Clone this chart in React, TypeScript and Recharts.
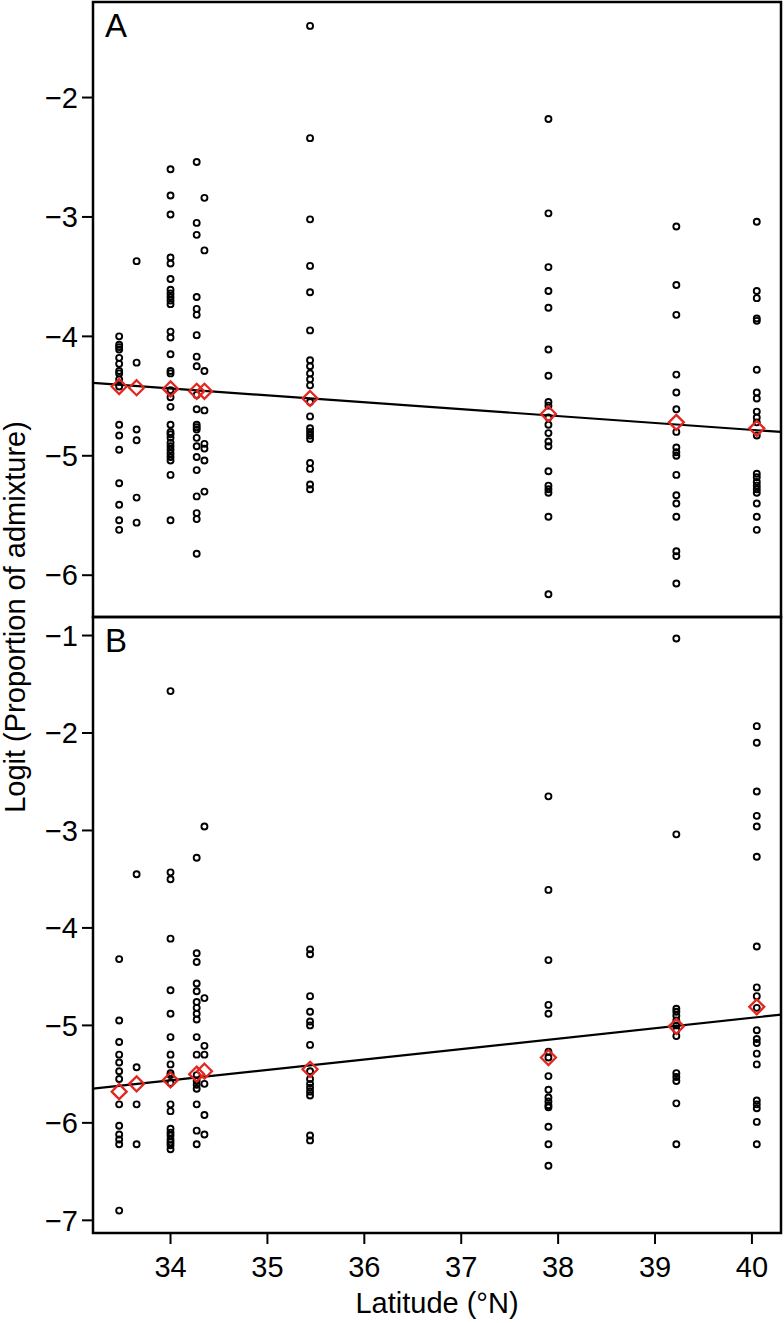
import { ScatterChart, Scatter, XAxis, YAxis, ReferenceArea, ReferenceLine } from 'recharts'

const FONT = "'Liberation Sans', Arial, Helvetica, sans-serif"
const RED = '#e3261f'

// sampling sites (latitude, °N)
const latitudes = [33.47, 33.65, 34.0, 34.27, 34.35, 35.44, 37.9, 39.22, 40.05]
const latTicks = [34, 35, 36, 37, 38, 39, 40]

// panel A: logit(proportion of admixture) per individual
const a3347 = [-4.0, -4.07, -4.09, -4.11, -4.18, -4.23, -4.29, -4.31, -4.36, -4.42, -4.74, -4.83, -4.95, -5.23, -5.41, -5.54, -5.62]
const a3365 = [-3.37, -4.22, -4.78, -4.87, -5.35, -5.56]
const a3400 = [-2.6, -2.82, -2.98, -3.34, -3.39, -3.52, -3.61, -3.64, -3.67, -3.7, -3.73, -3.96, -4.01, -4.15, -4.29, -4.31, -4.45, -4.51, -4.59, -4.74, -4.8, -4.82, -4.85, -4.89, -4.92, -4.95, -4.98, -5.01, -5.04, -5.16, -5.54]
const a3427 = [-2.54, -3.05, -3.15, -3.67, -3.77, -3.82, -3.99, -4.17, -4.25, -4.49, -4.61, -4.74, -4.76, -4.78, -4.85, -4.92, -5.01, -5.12, -5.34, -5.48, -5.53, -5.82]
const a3435 = [-2.84, -3.28, -4.29, -4.62, -4.9, -4.94, -5.04, -5.3]
const a3544 = [-1.4, -2.34, -3.02, -3.41, -3.63, -3.95, -4.2, -4.25, -4.31, -4.36, -4.41, -4.55, -4.67, -4.77, -4.8, -4.83, -4.86, -5.06, -5.11, -5.24, -5.28]
const a3790 = [-2.18, -2.97, -3.42, -3.62, -3.76, -4.11, -4.33, -4.55, -4.58, -4.68, -4.74, -4.81, -4.88, -4.92, -5.13, -5.25, -5.28, -5.31, -5.51, -6.16]
const a3922 = [-3.08, -3.57, -3.82, -4.32, -4.47, -4.61, -4.8, -4.93, -4.97, -5.0, -5.16, -5.33, -5.4, -5.51, -5.8, -5.84, -6.07]
const a4005 = [-3.04, -3.62, -3.68, -3.85, -3.87, -4.28, -4.47, -4.52, -4.63, -4.68, -4.72, -4.83, -5.15, -5.18, -5.22, -5.25, -5.28, -5.31, -5.4, -5.51, -5.62]
const aMeans = [-4.42, -4.43, -4.44, -4.46, -4.46, -4.52, -4.65, -4.72, -4.77]

// panel B
const b3347 = [-4.32, -4.95, -5.17, -5.3, -5.38, -5.47, -5.55, -5.81, -6.03, -6.12, -6.17, -6.22, -6.9]
const b3365 = [-3.45, -5.43, -5.81, -6.22]
const b3400 = [-1.57, -3.43, -3.5, -4.11, -4.64, -4.88, -5.12, -5.3, -5.4, -5.49, -5.51, -5.59, -5.81, -5.88, -6.06, -6.1, -6.13, -6.17, -6.2, -6.23, -6.27]
const b3427 = [-3.28, -4.26, -4.35, -4.57, -4.65, -4.76, -4.82, -4.88, -4.94, -5.12, -5.3, -5.51, -5.57, -5.61, -5.65, -5.81, -6.08, -6.22]
const b3435 = [-2.96, -4.72, -5.21, -5.3, -5.6, -5.92, -6.12]
const b3544 = [-4.22, -4.27, -4.7, -4.86, -4.96, -5.0, -5.2, -5.47, -5.55, -5.6, -5.64, -5.68, -5.72, -6.13, -6.18]
const b3790 = [-2.65, -3.61, -4.33, -4.79, -4.88, -5.27, -5.33, -5.52, -5.66, -5.74, -5.78, -5.82, -5.84, -6.04, -6.22, -6.44]
const b3922 = [-1.03, -3.04, -4.83, -4.86, -4.9, -4.95, -5.0, -5.05, -5.11, -5.49, -5.53, -5.57, -5.8, -6.22]
const b4005 = [-1.93, -2.1, -2.6, -2.85, -2.96, -3.27, -4.19, -4.61, -4.7, -4.82, -5.05, -5.14, -5.18, -5.29, -5.4, -5.77, -5.81, -5.85, -5.99, -6.22]
const bMeans = [-5.68, -5.6, -5.56, -5.5, -5.47, -5.45, -5.33, -5.01, -4.81]

// fitted regression lines (intercept, slope)
const fitA = { a: -2.471, b: -0.0578 }
const fitB = { a: -9.202, b: 0.107 }

const xDomain: [number, number] = [33.2, 40.3]
const yDomainA: [number, number] = [-6.35, -1.2]
const yDomainB: [number, number] = [-7.13, -0.81]
const yTicksA = [-6, -5, -4, -3, -2]
const yTicksB = [-7, -6, -5, -4, -3, -2, -1]

const toPoints = (groups: number[][]) =>
  groups.flatMap((vals, i) => vals.map((v) => ({ lat: latitudes[i], v })))
const toMeans = (means: number[]) => means.map((v, i) => ({ lat: latitudes[i], v }))

const pointsA = toPoints([a3347, a3365, a3400, a3427, a3435, a3544, a3790, a3922, a4005])
const pointsB = toPoints([b3347, b3365, b3400, b3427, b3435, b3544, b3790, b3922, b4005])

const fmt = (v: number) => (v < 0 ? `\u2212${Math.abs(v)}` : `${v}`)

const OpenCircle = (p: any) => (
  <circle cx={p.cx} cy={p.cy} r={3} fill="none" stroke="#000" strokeWidth={1.9} />
)

const Diamond = (p: any) => {
  const s = 7.5
  return (
    <path
      d={`M${p.cx},${p.cy - s}L${p.cx + s},${p.cy}L${p.cx},${p.cy + s}L${p.cx - s},${p.cy}Z`}
      fill="none"
      stroke={RED}
      strokeWidth={2.3}
    />
  )
}

type PanelProps = {
  letter: string
  points: { lat: number; v: number }[]
  means: number[]
  fit: { a: number; b: number }
  yDomain: [number, number]
  yTicks: number[]
  showX: boolean
}

const Panel = ({ letter, points, means, fit, yDomain, yTicks, showX }: PanelProps) => (
  <>
    <XAxis
      type="number"
      dataKey="lat"
      domain={xDomain}
      allowDataOverflow
      ticks={latTicks}
      hide={!showX}
      height={85}
      axisLine={false}
      tickSize={11}
      tickMargin={12}
      tickLine={{ stroke: '#000', strokeWidth: 2 }}
      tick={{ fill: '#000', fontSize: 29, fontFamily: FONT }}
      label={{ value: 'Latitude (°N)', position: 'insideBottom', offset: 5, fill: '#000', fontSize: 29, fontFamily: FONT }}
    />
    <YAxis
      type="number"
      dataKey="v"
      domain={yDomain}
      allowDataOverflow
      ticks={yTicks}
      width={93}
      axisLine={false}
      tickSize={11}
      tickMargin={4}
      tickFormatter={fmt}
      tickLine={{ stroke: '#000', strokeWidth: 2 }}
      tick={{ fill: '#000', fontSize: 29, fontFamily: FONT }}
    />
    <Scatter data={points} shape={OpenCircle} isAnimationActive={false} />
    <ReferenceLine
      segment={[
        { x: xDomain[0], y: fit.a + fit.b * xDomain[0] },
        { x: xDomain[1], y: fit.a + fit.b * xDomain[1] },
      ]}
      stroke="#000"
      strokeWidth={2.2}
    />
    <Scatter data={toMeans(means)} shape={Diamond} isAnimationActive={false} />
    <ReferenceArea
      x1={xDomain[0]}
      x2={xDomain[1]}
      y1={yDomain[0]}
      y2={yDomain[1]}
      fill="none"
      fillOpacity={0}
      stroke="#000"
      strokeWidth={2.5}
      label={{ value: letter, position: 'insideTopLeft', offset: 12, fill: '#000', fontSize: 33, fontFamily: FONT }}
    />
  </>
)

export default function App() {
  return (
    <div style={{ position: 'absolute', left: 0, top: 0, width: 784, height: 1323, background: '#fff', fontFamily: FONT }}>
      <div style={{ position: 'absolute', left: 0, top: 0 }}>
        <ScatterChart width={784} height={620} margin={{ top: 2, right: 3, bottom: 3, left: 0 }}>
          {Panel({ letter: 'A', points: pointsA, means: aMeans, fit: fitA, yDomain: yDomainA, yTicks: yTicksA, showX: false })}
        </ScatterChart>
      </div>
      <div style={{ position: 'absolute', left: 0, top: 600 }}>
        <ScatterChart width={784} height={723} margin={{ top: 17, right: 3, bottom: 5, left: 0 }}>
          {Panel({ letter: 'B', points: pointsB, means: bMeans, fit: fitB, yDomain: yDomainB, yTicks: yTicksB, showX: true })}
        </ScatterChart>
      </div>
      <div
        style={{
          position: 'absolute',
          left: 15,
          top: 617,
          transform: 'translate(-50%, -50%) rotate(-90deg)',
          whiteSpace: 'nowrap',
          fontSize: 29,
          color: '#000',
        }}
      >
        Logit (Proportion of admixture)
      </div>
    </div>
  )
}
